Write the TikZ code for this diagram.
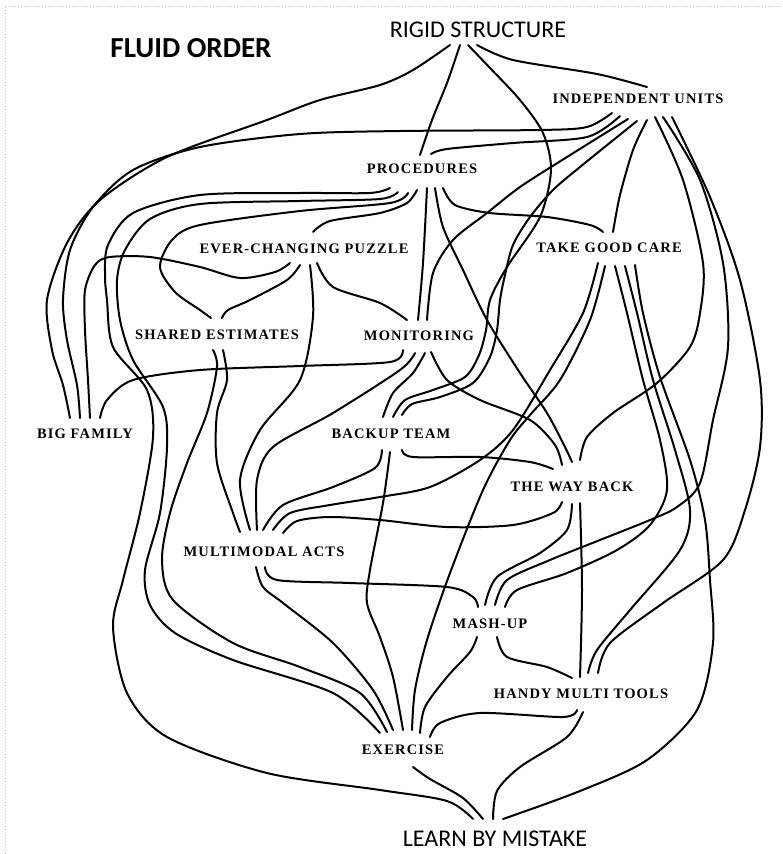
\documentclass[tikz,border=0pt]{standalone}
\usepackage{fontspec}
\usetikzlibrary{calc}
\newfontfamily\labfont[LetterSpace=8]{Liberation Serif}
\newfontfamily\calfont{Carlito}
\tikzset{
 lab/.style={font=\labfont\bfseries\fontsize{14.5}{14.5}\selectfont, inner sep=0pt},
 bigtxt/.style={font=\calfont\fontsize{24}{24}\selectfont, inner sep=0pt},
 titletxt/.style={font=\calfont\bfseries\fontsize{29}{29}\selectfont, inner sep=0pt},
 edge/.style={line width=2pt, line cap=round, line join=round},
 frame/.style={gray!50, dotted, line width=1pt}
}
\begin{document}
\begin{tikzpicture}[x=1pt,y=-1pt]
\useasboundingbox (0,0) rectangle (783,854);
\draw[frame] (5,854) -- (5,6) -- (783,6);
% nodes
\node[titletxt] (title) at (191,48) {FLUID ORDER};
\node[bigtxt] (rs) at (478,30) {RIGID STRUCTURE};
\node[bigtxt] (lbm) at (495,839) {LEARN BY MISTAKE};
\node[lab] (iu) at (638,99) {INDEPENDENT UNITS};
\node[lab] (pr) at (422,169) {PROCEDURES};
\node[lab] (ecp) at (304,249) {EVER-CHANGING PUZZLE};
\node[lab] (tgc) at (609,248) {TAKE GOOD CARE};
\node[lab] (se) at (217,335) {SHARED ESTIMATES};
\node[lab] (mon) at (419,336) {MONITORING};
\node[lab] (bf) at (85,434) {BIG FAMILY};
\node[lab] (bt) at (391,434) {BACKUP TEAM};
\node[lab] (twb) at (572,487) {THE WAY BACK};
\node[lab] (mma) at (264,552) {MULTIMODAL ACTS};
\node[lab] (mu) at (490,624) {MASH-UP};
\node[lab] (hmt) at (581,694) {HANDY MULTI TOOLS};
\node[lab] (ex) at (403,750) {EXERCISE};
% RIGID STRUCTURE
\draw[edge] plot[smooth] coordinates {($(rs)+(-28,15)$) (413,70) (380,85) (320,100) (267,120) (167,157) (100,200) (67,243) (47,300) (52,350) (63,385) ($(bf)+(-15,-16)$)};
\draw[edge] plot[smooth] coordinates {($(rs)+(-18,15)$) (447,83) (432,120) ($(pr)+(-2,-14)$)};
\draw[edge] plot[smooth] coordinates {($(rs)+(-10,15)$) (490,68) (520,100) (543,133) (551,170) (540,217) (507,267) (490,300) (486,330) (479,355) (465,377) (433,390) (405,400) ($(bt)+(2,-17)$)};
\draw[edge] plot[smooth] coordinates {($(rs)+(-1,15)$) (513,60) (597,74) ($(iu)+(9,-12)$)};
% INDEPENDENT UNITS
\draw[edge] plot[smooth] coordinates {($(iu)+(-26,14)$) (587,127) (540,130) (400,131) (300,134) (200,147) (133,170) (93,207) (70,250) (63,300) (67,340) (77,385) ($(bf)+(-5,-16)$)};
\draw[edge] plot[smooth] coordinates {($(iu)+(-18,17)$) (587,137) (513,143) (447,149) ($(pr)+(9,-15)$)};
\draw[edge] plot[smooth] coordinates {($(iu)+(-10,20)$) (567,157) (520,187) (487,213) (453,240) (433,273) ($(mon)+(8,-16)$)};
\draw[edge] plot[smooth] coordinates {($(iu)+(-1,22)$) (580,167) (553,190) (530,217) (513,245) (505,275) (500,300) (497,330) (490,357) (473,383) (440,397) (412,404) ($(bt)+(11,-19)$)};
\draw[edge] plot[smooth] coordinates {($(iu)+(9,21)$) (633,150) (620,195) ($(tgc)+(4,-16)$)};
\draw[edge] plot[smooth] coordinates {($(iu)+(17,18)$) (683,180) (703,263) (700,313) (690,347) (657,383) (613,413) (587,437) ($(twb)+(8,-27)$)};
\draw[edge] plot[smooth] coordinates {($(iu)+(25,18)$) (700,180) (723,263) (728,347) (713,420) (700,483) (677,507) (650,520) (600,540) (550,560) (507,580) ($(mu)+(5,-19)$)};
\draw[edge] plot[smooth] coordinates {($(iu)+(34,18)$) (710,197) (740,280) (760,380) (760,447) (745,510) (723,560) (663,603) (610,643) ($(hmt)+(17,-21)$)};
% PROCEDURES
\draw[edge] plot[smooth] coordinates {($(pr)+(-32,19)$) (370,193) (300,193) (200,195) (133,213) (108,245) (105,275) (107,300) (113,347) (147,390) (153,437) (140,513) (123,580) (113,627) (127,693) (167,737) (267,773) (380,790) (447,801) ($(lbm)+(-22,-20)$)};
\draw[edge] plot[smooth] coordinates {($(pr)+(-24,23)$) (380,199) (300,201) (200,204) (150,219) (125,250) (117,280) (120,320) (133,360) (163,407) (167,447) (160,513) (145,570) (150,605) (175,633) (233,660) (333,693) ($(ex)+(-23,-17)$)};
\draw[edge] plot[smooth] coordinates {($(pr)+(-14,24)$) (390,203) (300,211) (200,225) (172,240) (160,267) (175,292) (200,310) ($(se)+(-6,-17)$)};
\draw[edge] plot[smooth] coordinates {($(pr)+(-5,21)$) (407,203) (380,213) (330,221) ($(ecp)+(9,-17)$)};
\draw[edge] plot[smooth] coordinates {($(pr)+(5,19)$) (423,263) ($(mon)+(-1,-16)$)};
\draw[edge] plot[smooth] coordinates {($(pr)+(13,19)$) (443,227) (463,270) (487,320) (520,373) (547,413) (565,447) ($(twb)+(0,-25)$)};
\draw[edge] plot[smooth] coordinates {($(pr)+(21,19)$) (455,205) (490,213) (547,217) (590,225) ($(tgc)+(-6,-16)$)};
% EVER-CHANGING PUZZLE
\draw[edge] plot[smooth] coordinates {($(ecp)+(-14,14)$) (275,272) (240,278) (200,267) (150,257) (110,257) (95,265) (85,290) (85,330) (88,380) ($(bf)+(5,-16)$)};
\draw[edge] plot[smooth] coordinates {($(ecp)+(-4,16)$) (287,280) (250,300) (228,310) ($(se)+(5,-17)$)};
\draw[edge] plot[smooth] coordinates {($(ecp)+(6,16)$) (313,317) (300,380) (260,430) (240,480) ($(mma)+(-14,-22)$)};
\draw[edge] plot[smooth] coordinates {($(ecp)+(13,14)$) (333,287) (380,303) ($(mon)+(-12,-16)$)};
% SHARED ESTIMATES
\draw[edge] plot[smooth] coordinates {($(se)+(-4,15)$) (217,367) (207,413) (187,463) (170,513) (162,560) (173,600) (233,643) (300,667) (360,693) ($(ex)+(-16,-18)$)};
\draw[edge] plot[smooth] coordinates {($(se)+(6,15)$) (227,380) (217,413) (217,463) (233,513) ($(mma)+(-24,-20)$)};
% MONITORING
\draw[edge] plot[smooth] coordinates {($(mon)+(-16,14)$) (390,362) (300,366) (200,370) (133,380) (107,400) ($(bf)+(15,-16)$)};
\draw[edge] plot[smooth] coordinates {($(mon)+(-4,17)$) (400,370) (333,413) (273,447) (257,480) ($(mma)+(-7,-22)$)};
\draw[edge] plot[smooth] coordinates {($(mon)+(6,17)$) (413,373) (393,393) ($(bt)+(-8,-17)$)};
\draw[edge] plot[smooth] coordinates {($(mon)+(12,16)$) (447,380) (480,400) (530,420) (555,445) ($(twb)+(-10,-22)$)};
% BACKUP TEAM
\draw[edge] plot[smooth] coordinates {($(bt)+(-9,16)$) (375,468) (333,487) (283,505) ($(mma)+(-1,-22)$)};
\draw[edge] plot[smooth] coordinates {($(bt)+(-1,18)$) (383,503) (370,570) (367,603) (380,637) (393,677) ($(ex)+(0,-20)$)};
\draw[edge] plot[smooth] coordinates {($(bt)+(11,16)$) (413,457) (480,457) (530,462) ($(twb)+(-19,-18)$)};
% THE WAY BACK
\draw[edge] plot[smooth] coordinates {($(twb)+(-10,15)$) (553,513) (513,525) (447,527) (380,520) (330,517) (297,521) ($(mma)+(19,-19)$)};
\draw[edge] plot[smooth] coordinates {($(twb)+(0,17)$) (567,530) (540,553) (497,577) ($(mu)+(-5,-19)$)};
\draw[edge] plot[smooth] coordinates {($(twb)+(8,16)$) (582,590) ($(hmt)+(-1,-17)$)};
% MULTIMODAL ACTS
\draw[edge] plot[smooth] coordinates {($(mma)+(-8,15)$) (263,587) (283,603) (333,643) (373,690) ($(ex)+(-10,-20)$)};
\draw[edge] plot[smooth] coordinates {($(mma)+(1,15)$) (277,580) (350,583) (447,587) (473,597) ($(mu)+(-12,-17)$)};
% MASH-UP
\draw[edge] plot[smooth] coordinates {($(mu)+(-13,13)$) (470,652) (447,677) (425,707) ($(ex)+(17,-17)$)};
\draw[edge] plot[smooth] coordinates {($(mu)+(7,13)$) (507,657) (547,667) ($(hmt)+(-9,-16)$)};
% HANDY MULTI TOOLS
\draw[edge] plot[smooth] coordinates {($(hmt)+(-4,16)$) (563,717) (480,713) (440,723) ($(ex)+(27,-13)$)};
\draw[edge] plot[smooth] coordinates {($(hmt)+(2,18)$) (567,737) (520,767) (497,791) ($(lbm)+(-2,-20)$)};
% EXERCISE
\draw[edge] plot[smooth] coordinates {($(ex)+(10,17)$) (430,779) (463,798) ($(lbm)+(-12,-20)$)};
% TAKE GOOD CARE
\draw[edge] plot[smooth] coordinates {($(tgc)+(-11,15)$) (583,313) (550,370) (513,430) (480,460) (430,487) (380,497) (330,505) (290,513) ($(mma)+(9,-22)$)};
\draw[edge] plot[smooth] coordinates {($(tgc)+(-4,18)$) (590,320) (560,380) (530,415) (510,440) (483,490) (450,573) (427,640) (415,690) ($(ex)+(9,-20)$)};
\draw[edge] plot[smooth] coordinates {($(tgc)+(6,18)$) (627,313) (643,380) (660,440) (667,490) (650,525) (617,550) (567,573) (517,590) ($(mu)+(15,-17)$)};
\draw[edge] plot[smooth] coordinates {($(tgc)+(16,18)$) (637,313) (653,380) (675,450) (690,510) (680,550) (630,610) (597,650) ($(hmt)+(7,-21)$)};
\draw[edge] plot[smooth] coordinates {($(tgc)+(26,17)$) (643,313) (660,377) (690,460) (705,520) (710,580) (713,643) (697,710) (647,760) (580,791) ($(lbm)+(8,-20)$)};
\end{tikzpicture}
\end{document}
